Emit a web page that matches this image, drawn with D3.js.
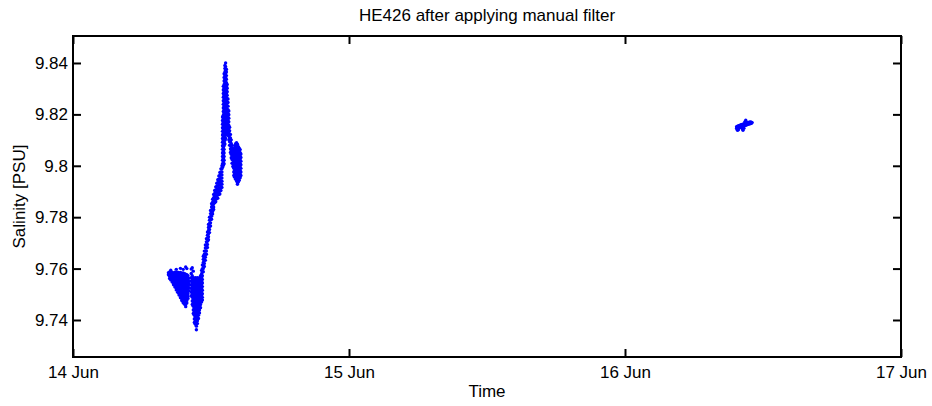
<!DOCTYPE html>
<html><head><meta charset="utf-8">
<script src="https://cdn.jsdelivr.net/npm/d3@7"></script>
<style>
body{margin:0;background:#fff}
text{font-family:"Liberation Sans",Arial,sans-serif;fill:#000}
</style>
</head><body><svg id="c" width="932" height="406"></svg>
<script>
const chartTitle = "HE426 after applying manual filter";
const xLabel = "Time";
const yLabel = "Salinity [PSU]";
const dateStart = "2014-06-14";
const dateEnd = "2014-06-17";
const xTickLabels = ["14 Jun", "15 Jun", "16 Jun", "17 Jun"];
const yTickValues = [9.74, 9.76, 9.78, 9.80, 9.82, 9.84];
const yTickLabels = ["9.74", "9.76", "9.78", "9.8", "9.82", "9.84"];
const yDomain = [9.7256, 9.8505];

// rows: [hours after 14 Jun 00:00, salinity readings (PSU) ...]
const station1Descent = [
  [8.30, 9.7584, 9.7576],
  [8.40, 9.7587, 9.7578, 9.7569, 9.7561],
  [8.50, 9.7594, 9.7584, 9.7575, 9.7565, 9.7556],
  [8.62, 9.7585, 9.7576, 9.7566, 9.7557, 9.7548],
  [8.74, 9.7583, 9.7574, 9.7564, 9.7554, 9.7545, 9.7537],
  [8.86, 9.7586, 9.7577, 9.7567, 9.7557, 9.7547, 9.7537, 9.7528],
  [8.98, 9.7597, 9.7584, 9.7575, 9.7565, 9.7555, 9.7545, 9.7535, 9.7525, 9.7517],
  [9.10, 9.7586, 9.7577, 9.7567, 9.7557, 9.7547, 9.7537, 9.7527, 9.7517, 9.7508],
  [9.22, 9.7583, 9.7574, 9.7564, 9.7554, 9.7544, 9.7534, 9.7524, 9.7514, 9.7504, 9.7497],
  [9.34, 9.7601, 9.7585, 9.7576, 9.7566, 9.7556, 9.7546, 9.7536, 9.7526, 9.7516, 9.7506, 9.7496, 9.7487],
  [9.46, 9.7582, 9.7573, 9.7563, 9.7553, 9.7543, 9.7533, 9.7523, 9.7513, 9.7503, 9.7493, 9.7483, 9.7476],
  [9.58, 9.7597, 9.7583, 9.7574, 9.7564, 9.7554, 9.7544, 9.7534, 9.7524, 9.7514, 9.7504, 9.7494, 9.7484, 9.7474, 9.7467],
  [9.70, 9.7580, 9.7570, 9.7560, 9.7550, 9.7540, 9.7530, 9.7520, 9.7510, 9.7500, 9.7490, 9.7480, 9.7470, 9.7461],
  [9.80, 9.7606, 9.7578, 9.7568, 9.7558, 9.7548, 9.7538, 9.7528, 9.7518, 9.7508, 9.7498, 9.7488, 9.7478, 9.7468, 9.7459, 9.7452],
  [9.90, 9.7600, 9.7576, 9.7566, 9.7556, 9.7546, 9.7536, 9.7526, 9.7516, 9.7506, 9.7496, 9.7486, 9.7476, 9.7466],
  [10.00, 9.7572, 9.7562, 9.7552, 9.7542, 9.7532, 9.7522, 9.7512, 9.7502, 9.7492, 9.7484],
  [10.08, 9.7562, 9.7550, 9.7538, 9.7526, 9.7514]
];

const station1Minimum = [
  [10.28, 9.7598, 9.7581, 9.7565, 9.7551, 9.7537, 9.7523, 9.7509, 9.7495],
  [10.37, 9.7603, 9.7572, 9.7558, 9.7544, 9.7530, 9.7516, 9.7502, 9.7488, 9.7474, 9.7460],
  [10.46, 9.7590, 9.7565, 9.7551, 9.7537, 9.7523, 9.7509, 9.7495, 9.7481, 9.7467, 9.7453, 9.7439, 9.7425],
  [10.55, 9.7558, 9.7544, 9.7530, 9.7516, 9.7502, 9.7488, 9.7474, 9.7460, 9.7446, 9.7432, 9.7418, 9.7404, 9.7390],
  [10.64, 9.7565, 9.7551, 9.7537, 9.7523, 9.7509, 9.7495, 9.7481, 9.7467, 9.7453, 9.7439, 9.7425, 9.7411, 9.7397, 9.7383],
  [10.73, 9.7558, 9.7544, 9.7530, 9.7516, 9.7502, 9.7488, 9.7474, 9.7460, 9.7446, 9.7432, 9.7418, 9.7404, 9.7390, 9.7376, 9.7362],
  [10.82, 9.7565, 9.7551, 9.7537, 9.7523, 9.7509, 9.7495, 9.7481, 9.7467, 9.7453, 9.7439, 9.7425, 9.7411, 9.7397, 9.7386],
  [10.91, 9.7558, 9.7544, 9.7530, 9.7516, 9.7502, 9.7488, 9.7474, 9.7460, 9.7446, 9.7432, 9.7418, 9.7406],
  [11.00, 9.7565, 9.7551, 9.7537, 9.7523, 9.7509, 9.7495, 9.7481, 9.7467, 9.7453, 9.7439, 9.7427],
  [11.09, 9.7572, 9.7558, 9.7544, 9.7530, 9.7516, 9.7502, 9.7488, 9.7474, 9.7460, 9.7448],
  [11.18, 9.7593, 9.7579, 9.7565, 9.7551, 9.7537, 9.7523, 9.7509, 9.7495, 9.7481, 9.7470],
  [11.25, 9.7614, 9.7600, 9.7586, 9.7572, 9.7558, 9.7544, 9.7530, 9.7516, 9.7502, 9.7488, 9.7478]
];

const station1Rise = [
  [11.33, 9.7648, 9.7636, 9.7624, 9.7612, 9.7600, 9.7588],
  [11.42, 9.7668, 9.7656, 9.7644, 9.7632, 9.7620, 9.7608],
  [11.51, 9.7692, 9.7680, 9.7668, 9.7656, 9.7644, 9.7632],
  [11.60, 9.7716, 9.7704, 9.7692, 9.7680, 9.7668, 9.7656],
  [11.69, 9.7742, 9.7730, 9.7718, 9.7706, 9.7694, 9.7682],
  [11.78, 9.7772, 9.7760, 9.7748, 9.7736, 9.7724, 9.7712],
  [11.87, 9.7800, 9.7788, 9.7776, 9.7764, 9.7752, 9.7740],
  [11.96, 9.7826, 9.7814, 9.7802, 9.7790, 9.7778, 9.7766],
  [12.05, 9.7852, 9.7840, 9.7828, 9.7816, 9.7804, 9.7792],
  [12.14, 9.7870, 9.7858, 9.7846, 9.7834, 9.7822, 9.7812],
  [12.23, 9.7888, 9.7876, 9.7864, 9.7852, 9.7840, 9.7830],
  [12.32, 9.7904, 9.7892, 9.7880, 9.7868, 9.7856],
  [12.41, 9.7918, 9.7906, 9.7894, 9.7882, 9.7870, 9.7860],
  [12.50, 9.7932, 9.7920, 9.7908, 9.7896, 9.7884, 9.7872],
  [12.59, 9.7946, 9.7934, 9.7922, 9.7910, 9.7898, 9.7886, 9.7874],
  [12.68, 9.7960, 9.7948, 9.7936, 9.7924, 9.7912, 9.7900, 9.7888],
  [12.77, 9.7974, 9.7962, 9.7950, 9.7938, 9.7926, 9.7914, 9.7902, 9.7890],
  [12.86, 9.7988, 9.7976, 9.7964, 9.7952, 9.7940, 9.7928, 9.7916, 9.7904],
  [12.95, 9.8000, 9.7988, 9.7976, 9.7964, 9.7952, 9.7940, 9.7928, 9.7916]
];

const station1Peak = [
  [13.00, 9.7994, 9.8008, 9.8022, 9.8036, 9.8050, 9.8064, 9.8078, 9.8092, 9.8106, 9.8120, 9.8134, 9.8148, 9.8162, 9.8176, 9.8190],
  [13.07, 9.8001, 9.8015, 9.8029, 9.8043, 9.8057, 9.8071, 9.8085, 9.8099, 9.8113, 9.8127, 9.8141, 9.8155, 9.8169, 9.8183, 9.8197, 9.8211, 9.8225, 9.8239, 9.8253, 9.8267, 9.8281, 9.8295, 9.8309],
  [13.14, 9.8008, 9.8022, 9.8036, 9.8050, 9.8064, 9.8078, 9.8092, 9.8106, 9.8120, 9.8134, 9.8148, 9.8162, 9.8176, 9.8190, 9.8204, 9.8218, 9.8232, 9.8246, 9.8260, 9.8274, 9.8288, 9.8302, 9.8316, 9.8330, 9.8344, 9.8358],
  [13.21, 9.8085, 9.8099, 9.8113, 9.8127, 9.8141, 9.8155, 9.8169, 9.8183, 9.8197, 9.8211, 9.8225, 9.8239, 9.8253, 9.8267, 9.8281, 9.8295, 9.8309, 9.8323, 9.8337, 9.8351, 9.8365, 9.8379, 9.8390],
  [13.27, 9.8106, 9.8120, 9.8134, 9.8148, 9.8162, 9.8176, 9.8190, 9.8204, 9.8218, 9.8232, 9.8246, 9.8260, 9.8274, 9.8288, 9.8302, 9.8316, 9.8330, 9.8344, 9.8358, 9.8372, 9.8386, 9.8400],
  [13.34, 9.8127, 9.8141, 9.8155, 9.8169, 9.8183, 9.8197, 9.8211, 9.8225, 9.8239, 9.8253, 9.8267, 9.8281, 9.8295, 9.8309, 9.8323, 9.8337, 9.8351, 9.8365, 9.8376],
  [13.41, 9.8134, 9.8148, 9.8162, 9.8176, 9.8190, 9.8204, 9.8218, 9.8232, 9.8246, 9.8260, 9.8274, 9.8288, 9.8302, 9.8316]
];

const station1Fall = [
  [13.48, 9.8120, 9.8134, 9.8148, 9.8162, 9.8176, 9.8190, 9.8204, 9.8218, 9.8232, 9.8246, 9.8260],
  [13.55, 9.8101, 9.8115, 9.8129, 9.8143, 9.8157, 9.8171, 9.8185, 9.8199, 9.8213],
  [13.62, 9.8080, 9.8094, 9.8108, 9.8122, 9.8136, 9.8150],
  [13.69, 9.8052, 9.8066, 9.8080, 9.8094, 9.8108, 9.8122],
  [13.76, 9.8031, 9.8045, 9.8059, 9.8073, 9.8087, 9.8101],
  [13.83, 9.8010, 9.8024, 9.8038, 9.8052, 9.8066, 9.8080],
  [13.90, 9.7997, 9.8011, 9.8025, 9.8039, 9.8053, 9.8067],
  [13.98, 9.7962, 9.7976, 9.7990, 9.8004, 9.8018, 9.8032, 9.8046, 9.8060],
  [14.06, 9.7955, 9.7969, 9.7983, 9.7997, 9.8011, 9.8025, 9.8039, 9.8053, 9.8067, 9.8078],
  [14.14, 9.7948, 9.7962, 9.7976, 9.7990, 9.8004, 9.8018, 9.8032, 9.8046, 9.8060, 9.8074, 9.8086],
  [14.22, 9.7941, 9.7955, 9.7969, 9.7983, 9.7997, 9.8011, 9.8025, 9.8039, 9.8053, 9.8067, 9.8081, 9.8090],
  [14.30, 9.7928, 9.7934, 9.7948, 9.7962, 9.7976, 9.7990, 9.8004, 9.8018, 9.8032, 9.8046, 9.8060, 9.8074, 9.8084],
  [14.38, 9.7937, 9.7951, 9.7965, 9.7979, 9.7993, 9.8007, 9.8021, 9.8035, 9.8049, 9.8063, 9.8074],
  [14.46, 9.7944, 9.7958, 9.7972, 9.7986, 9.8000, 9.8014, 9.8028, 9.8042, 9.8056, 9.8068],
  [14.54, 9.7953, 9.7967, 9.7981, 9.7995, 9.8009, 9.8023, 9.8037, 9.8051, 9.8063],
  [14.60, 9.7962, 9.7976, 9.7990, 9.8004, 9.8018, 9.8032, 9.8046]
];

const station2 = [
  [57.70, 9.8152, 9.8145],
  [57.78, 9.8154, 9.8146, 9.8138],
  [57.86, 9.8155, 9.8147, 9.8140],
  [57.94, 9.8157, 9.8149],
  [58.02, 9.8158, 9.8150],
  [58.10, 9.8160, 9.8152],
  [58.18, 9.8161, 9.8153, 9.8145],
  [58.26, 9.8162, 9.8154, 9.8145, 9.8138],
  [58.34, 9.8163, 9.8155, 9.8146],
  [58.42, 9.8165, 9.8157, 9.8171],
  [58.50, 9.8166, 9.8158, 9.8177],
  [58.58, 9.8167, 9.8159],
  [58.66, 9.8168, 9.8161],
  [58.74, 9.8169, 9.8162],
  [58.82, 9.8170, 9.8163],
  [58.90, 9.8171, 9.8164],
  [58.98, 9.8170, 9.8165],
  [59.06, 9.8168]
];

const margin = {left: 73, right: 901, top: 36, bottom: 357};
const svg = d3.select("#c");
const parse = d3.timeParse("%Y-%m-%d");
const t0 = parse(dateStart), t1 = parse(dateEnd);

const x = d3.scaleTime().domain([t0, t1]).range([margin.left, margin.right]);
const y = d3.scaleLinear().domain(yDomain).range([margin.bottom, margin.top]);

const rows = [].concat(station1Descent, station1Minimum, station1Rise, station1Peak, station1Fall, station2);
const points = rows.flatMap(([h, ...vals]) => vals.map(v => ({t: new Date(+t0 + h * 3600000), v})));

svg.append("g").selectAll("circle").data(points).join("circle")
  .attr("cx", d => x(d.t)).attr("cy", d => y(d.v)).attr("r", 1.7)
  .attr("fill", "#0000ff");

const xTicks = d3.timeDay.range(t0, d3.timeDay.offset(t1, 1));
const fontSize = 17;

function style(g) {
  g.select(".domain").remove();
  g.selectAll(".tick line").attr("stroke", "#000").attr("stroke-width", 2);
  g.selectAll("text").attr("font-size", fontSize).attr("font-family", "Liberation Sans, Arial, sans-serif").attr("fill", "#000");
}

svg.append("g").attr("transform", `translate(0,${margin.bottom})`)
  .call(d3.axisBottom(x).tickValues(xTicks).tickSize(-8).tickPadding(9).tickFormat((d, i) => xTickLabels[i]))
  .call(style);
svg.append("g").attr("transform", `translate(0,${margin.top})`)
  .call(d3.axisTop(x).tickValues(xTicks).tickSize(-8).tickFormat(""))
  .call(style);
svg.append("g").attr("transform", `translate(${margin.left},0)`)
  .call(d3.axisLeft(y).tickValues(yTickValues).tickSize(-8).tickPadding(5).tickFormat((d, i) => yTickLabels[i]))
  .call(style);
svg.append("g").attr("transform", `translate(${margin.right},0)`)
  .call(d3.axisRight(y).tickValues(yTickValues).tickSize(-8).tickFormat(""))
  .call(style);

svg.append("rect")
  .attr("x", margin.left).attr("y", margin.top)
  .attr("width", margin.right - margin.left).attr("height", margin.bottom - margin.top)
  .attr("fill", "none").attr("stroke", "#000").attr("stroke-width", 2);

svg.append("text").attr("x", (margin.left + margin.right) / 2).attr("y", 21)
  .attr("text-anchor", "middle").attr("font-size", fontSize).text(chartTitle);
svg.append("text").attr("x", (margin.left + margin.right) / 2).attr("y", 397)
  .attr("text-anchor", "middle").attr("font-size", fontSize).text(xLabel);
svg.append("text").attr("transform", `translate(25,${(margin.top + margin.bottom) / 2}) rotate(-90)`)
  .attr("text-anchor", "middle").attr("font-size", fontSize).text(yLabel);
</script>
</body></html>
